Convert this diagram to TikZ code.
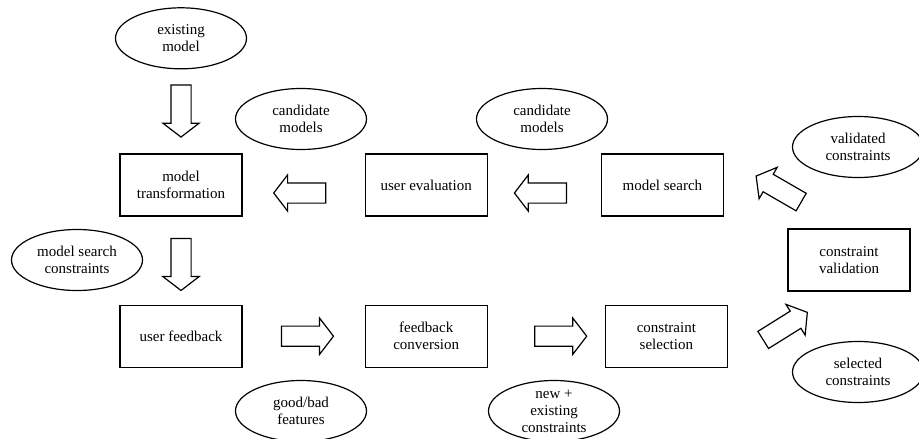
\documentclass[tikz,border=0pt]{standalone}
\usepackage{fontspec}
\setmainfont{Liberation Serif}
\usetikzlibrary{shapes.geometric, shapes.arrows, positioning, calc}

\begin{document}
\begin{tikzpicture}[x = 1pt, y = 1pt, % one unit per pixel
                line width = 1.2pt, % line style
                font = \fontsize{15}{17}\selectfont
            ]

            \tikzstyle{box}=[draw = black, rectangle, align = center,
            inner sep = 0pt, minimum width = 122pt, minimum height = 62pt]
            \tikzstyle{data}=[draw = black, ellipse, align = center,
            inner xsep = 0pt, inner ysep = -5pt, minimum width = 131pt,
            minimum height = 61pt]
            \tikzstyle{fat}=[draw = black, single arrow, inner xsep = 0pt,
            inner ysep = 9.5pt, minimum width = 35pt, minimum height = 52pt,
            single arrow head extend = 8pt, single arrow tip angle = 105]

            \useasboundingbox (0,0) rectangle (919,-439);

            % process steps
            \node (mt) [box] at (181,-185) {model\\transformation};
            \node (ue) [box, right=122pt of mt] {user evaluation};
            \node (ms) [box, right=113pt of ue] {model search};
            \node (uf) [box, below=88pt of mt] {user feedback};
            \node (fc) [box, right=122pt of uf] {feedback\\conversion};
            \node (cs) [box, right=117pt of fc] {constraint\\selection};
            \node (cv) [box] at (849,-260) {constraint\\validation};

            % data passed between steps
            \node (em) [data, above=84pt of mt] {existing\\model};
            \node (cm1) [data] at (301,-119) {candidate\\models};
            \node (cm2) [data] at (542,-119) {candidate\\models};
            \node (vc) [data] at (858,-147) {validated\\constraints};
            \node (msc) [data] at (77,-260) {model search\\constraints};
            \node (gbf) [data] at (301,-411) {good/bad\\features};
            \node (nec) [data] at (554,-411) {new +\\existing\\constraints};
            \node (sc) [data] at (858,-372) {selected\\constraints};

            % block arrows
            \node (a1) [fat, rotate=-90] at ($(em.south)!0.45!(mt.north)$) {};
            \node (a2) [fat, rotate=-90] at ($(mt.south)!0.5!(uf.north)$) {};
            \node (a3) [fat, rotate=180] at ($(ue.west)!0.5!(mt.east)+(0,-8)$) {};
            \node (a4) [fat, rotate=180] at ($(ms.west)!0.5!(ue.east)+(0,-8)$) {};
            \node (a5) [fat] at ($(uf.east)!0.5!(fc.west)$) {};
            \node (a6) [fat] at ($(fc.east)!0.59!(cs.west)$) {};
            \node (a7) [fat, rotate=32] at ($(cs.east)+(54,8)$) {};
            \node (a8) [fat, rotate=150] at ($(ms.east)+(58,-6)$) {};
        \end{tikzpicture}
\end{document}
